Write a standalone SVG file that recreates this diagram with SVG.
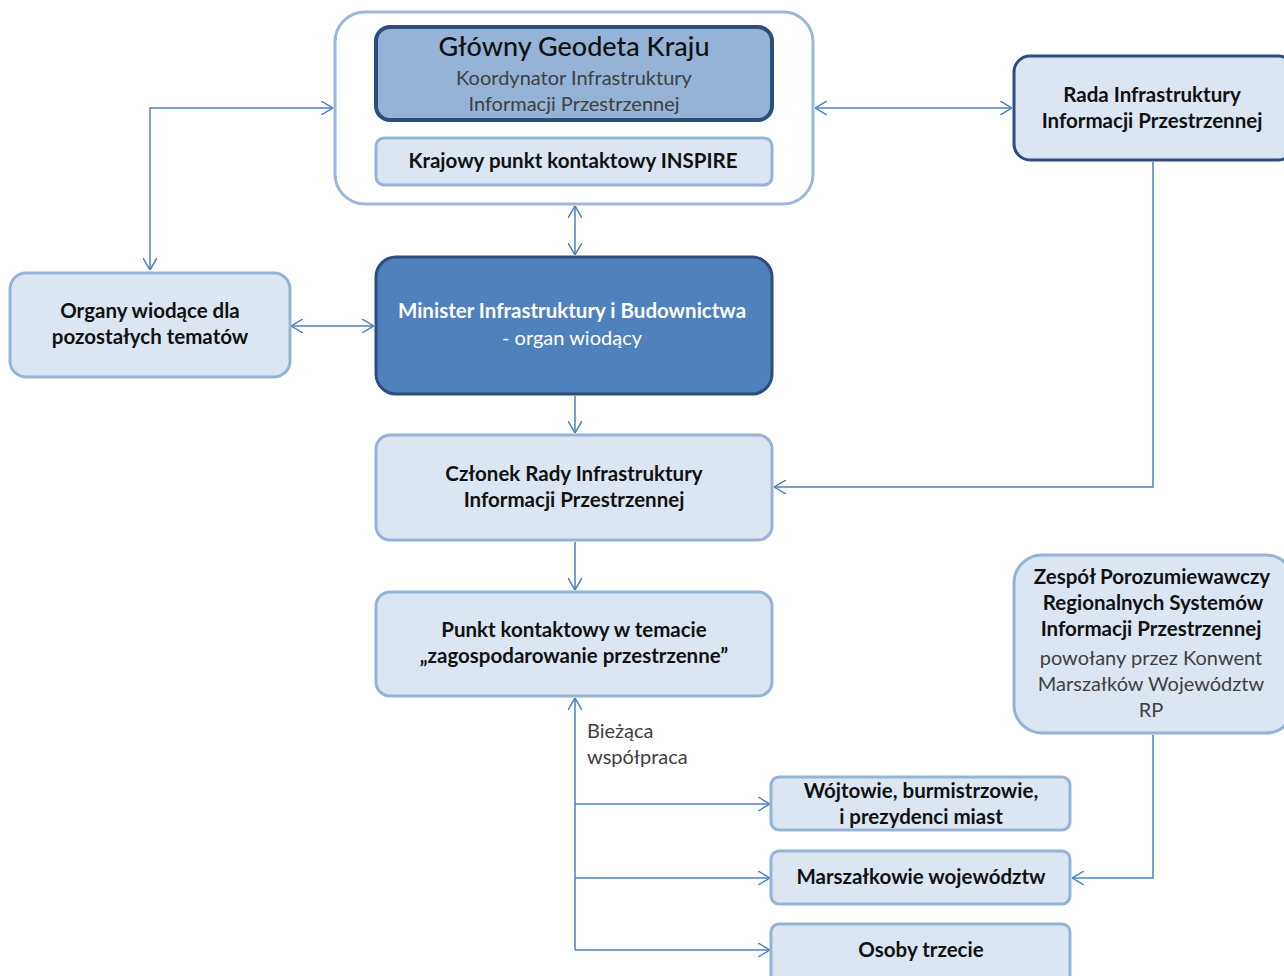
<svg xmlns="http://www.w3.org/2000/svg" width="1284" height="976" viewBox="0 0 1284 976">
<style>
text{font-family:Lato,"Open Sans","Liberation Sans",sans-serif;text-anchor:middle}
.b{font-weight:bold;font-size:20.5px;fill:#111}
.r{font-size:20px;fill:#404040}
.lt{fill:#dce6f2;stroke:#95b3d7;stroke-width:3}
.dk{stroke:#2c4d7e;stroke-width:3}
.c{fill:none;stroke:#4f81bd;stroke-width:1.5}
</style>
<defs>
<marker id="a" viewBox="0 0 12 14" refX="12" refY="7" markerWidth="12" markerHeight="14" markerUnits="userSpaceOnUse" orient="auto-start-reverse">
<path d="M0,0 L12,7 L0,14" fill="none" stroke="#4f81bd" stroke-width="1.5"/>
</marker>
</defs>
<g id="connectors">
<path class="c" d="M150,270 V108 H333" marker-start="url(#a)" marker-end="url(#a)"/>
<path class="c" d="M815,108 H1012" marker-start="url(#a)" marker-end="url(#a)"/>
<path class="c" d="M575,206 V255" marker-start="url(#a)" marker-end="url(#a)"/>
<path class="c" d="M291,326 H374" marker-start="url(#a)" marker-end="url(#a)"/>
<path class="c" d="M575,396 V433" marker-end="url(#a)"/>
<path class="c" d="M1153,162 V487 H774" marker-end="url(#a)"/>
<path class="c" d="M575,542 V590" marker-end="url(#a)"/>
<path class="c" d="M575,950 V698" marker-end="url(#a)"/>
<path class="c" d="M575,804 H770" marker-end="url(#a)"/>
<path class="c" d="M575,878 H770" marker-end="url(#a)"/>
<path class="c" d="M575,950 H770" marker-end="url(#a)"/>
<path class="c" d="M1153,735 V878 H1072" marker-end="url(#a)"/>
<text x="587" y="738" class="r" style="text-anchor:start">Bieżąca</text>
<text x="587" y="764" class="r" style="text-anchor:start">współpraca</text>
</g>
<g id="gugik-container">
<rect x="335" y="12" width="478" height="192" rx="30" fill="#fff" stroke="#9cb6dc" stroke-width="3"/>
</g>
<g id="glowny">
<rect x="376" y="27" width="396" height="93" rx="14" fill="#95b3d7" stroke="#2c4d7e" stroke-width="4"/>
<text x="574" y="56" style="font-size:27px;fill:#111;font-weight:500">Główny Geodeta Kraju</text>
<text x="574" y="85" class="r">Koordynator Infrastruktury</text>
<text x="574" y="111" class="r">Informacji Przestrzennej</text>
</g>
<g id="krajowy">
<rect x="376" y="138" width="396" height="47" rx="8" class="lt"/>
<text x="573" y="168" class="b">Krajowy punkt kontaktowy INSPIRE</text>
</g>
<g id="rada">
<rect x="1014" y="56" width="280" height="104" rx="16" fill="#dce6f2" class="dk"/>
<text x="1152" y="102" class="b">Rada Infrastruktury</text>
<text x="1152" y="128" class="b">Informacji Przestrzennej</text>
</g>
<g id="organy">
<rect x="10" y="273" width="280" height="104" rx="16" class="lt"/>
<text x="150" y="318" class="b">Organy wiodące dla</text>
<text x="150" y="344" class="b">pozostałych tematów</text>
</g>
<g id="minister">
<rect x="376" y="257" width="396" height="137" rx="20" fill="#4f81bd" class="dk"/>
<text x="572" y="318" class="b" style="fill:#fff">Minister Infrastruktury i Budownictwa</text>
<text x="572" y="345" class="r" style="fill:#fff">- organ wiodący</text>
</g>
<g id="czlonek">
<rect x="376" y="435" width="396" height="105" rx="14" class="lt"/>
<text x="574" y="481" class="b">Członek Rady Infrastruktury</text>
<text x="574" y="507" class="b">Informacji Przestrzennej</text>
</g>
<g id="punkt">
<rect x="376" y="592" width="396" height="104" rx="14" class="lt"/>
<text x="574" y="637" class="b">Punkt kontaktowy w temacie</text>
<text x="574" y="663" class="b">„zagospodarowanie przestrzenne”</text>
</g>
<g id="zespol">
<rect x="1014" y="555" width="280" height="178" rx="28" class="lt"/>
<text x="1152" y="584" class="b">Zespół Porozumiewawczy</text>
<text x="1153" y="610" class="b">Regionalnych Systemów</text>
<text x="1151" y="636" class="b">Informacji Przestrzennej</text>
<text x="1151" y="665" class="r">powołany przez Konwent</text>
<text x="1151" y="691" class="r">Marszałków Województw</text>
<text x="1151" y="717" class="r">RP</text>
</g>
<g id="wojtowie">
<rect x="771" y="777" width="299" height="53" rx="8" class="lt"/>
<text x="921" y="798" class="b">Wójtowie, burmistrzowie,</text>
<text x="921" y="824" class="b">i prezydenci miast</text>
</g>
<g id="marszalkowie">
<rect x="771" y="851" width="299" height="53" rx="8" class="lt"/>
<text x="921" y="884" class="b">Marszałkowie województw</text>
</g>
<g id="osoby">
<rect x="771" y="924" width="299" height="60" rx="8" class="lt"/>
<text x="921" y="957" class="b">Osoby trzecie</text>
</g>
</svg>
